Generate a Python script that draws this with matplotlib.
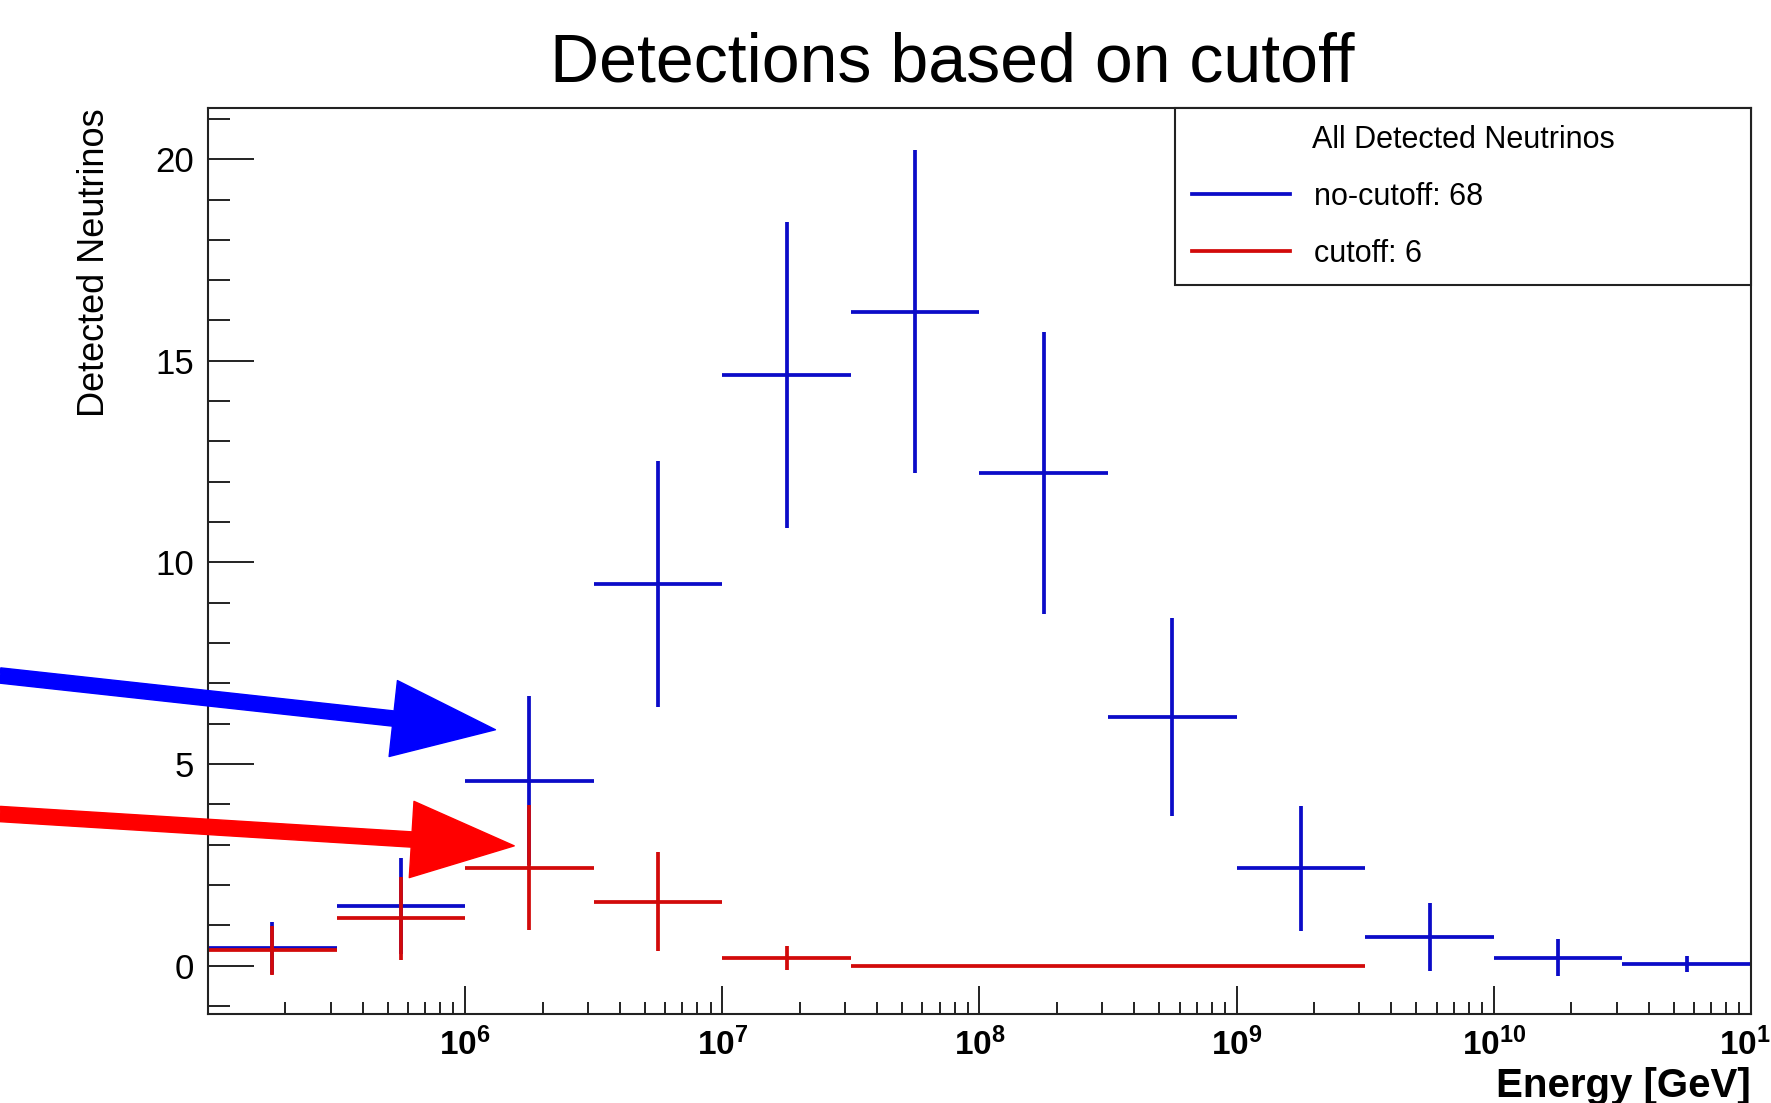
import numpy as np
import matplotlib.pyplot as plt
from matplotlib.lines import Line2D
from matplotlib.ticker import LogLocator, MultipleLocator, NullFormatter

plt.rcParams['font.family'] = ['Liberation Sans', 'DejaVu Sans']
plt.rcParams['mathtext.fontset'] = 'custom'
plt.rcParams['mathtext.rm'] = 'Liberation Sans'
plt.rcParams['mathtext.bf'] = 'Liberation Sans:bold'

# bin edges, log10(Energy / GeV)
log_edges = [5.0, 5.5, 6.0, 6.5, 7.0, 7.5, 8.0, 8.5, 9.0, 9.5, 10.0, 10.5, 11.0]

# no-cutoff histogram (68 detected)
nocut_counts = [0.44, 1.48, 4.59, 9.47, 14.65, 16.22, 12.21, 6.16, 2.41, 0.71, 0.19, 0.05]
nocut_err = [0.64, 1.2, 2.1, 3.05, 3.8, 4.0, 3.5, 2.45, 1.55, 0.85, 0.46, 0.2]

# cutoff histogram (6 detected), drawn up to 10^9.5
cut_counts = [0.38, 1.17, 2.43, 1.58, 0.18, 0.0, 0.0, 0.0, 0.0]
cut_err = [0.61, 1.03, 1.55, 1.23, 0.3, 0.0, 0.0, 0.0, 0.0]

tick_exps = [6, 7, 8, 9, 10, 11]
legend_labels = ['no-cutoff: 68', 'cutoff: 6']

BLUE = '#0b0bc8'
RED = '#d20a0a'
LW = 2.7


def draw_hist(ax, counts, errs, color):
    """draw a ROOT style histogram with error crosses"""
    n = len(counts)
    lo = 10 ** np.array(log_edges[:n])
    hi = 10 ** np.array(log_edges[1:n + 1])
    centers = np.sqrt(lo * hi)
    ax.errorbar(centers, counts, xerr=[centers - lo, hi - centers], yerr=errs,
                fmt='none', ecolor=color, elinewidth=LW, capsize=0)


fig = plt.figure(figsize=(17.71, 11.03), dpi=100)
ax = fig.add_axes([0.1174, 0.0807, 0.9887 - 0.1174, 0.9021 - 0.0807])

draw_hist(ax, nocut_counts, nocut_err, BLUE)
draw_hist(ax, cut_counts, cut_err, RED)

ax.set_xscale('log')
ax.set_xlim(1e5, 1e11)
ax.set_ylim(-1.2, 21.27)

# axis ticks, ROOT look
ax.set_xticks([10.0 ** e for e in tick_exps])
ax.set_xticklabels([r'$\mathbf{10^{%d}}$' % e for e in tick_exps])
ax.xaxis.set_minor_locator(LogLocator(base=10, subs=np.arange(2, 10)))
ax.xaxis.set_minor_formatter(NullFormatter())
ax.set_yticks([0, 5, 10, 15, 20])
ax.yaxis.set_minor_locator(MultipleLocator(1))
ax.tick_params(axis='both', which='both', direction='in', top=False, right=False,
               width=1.4, color='#222222')
ax.tick_params(axis='y', which='major', length=33, labelsize=25, pad=10)
ax.tick_params(axis='y', which='minor', length=16)
ax.tick_params(axis='x', which='major', length=20, labelsize=24, pad=10)
ax.tick_params(axis='x', which='minor', length=9)
for sp in ax.spines.values():
    sp.set_linewidth(1.5)
    sp.set_color('#222222')

ax.set_xlabel('Energy [GeV]', fontsize=29, fontweight='bold', loc='right')
ax.xaxis.set_label_coords(1.0, -0.058)
ax.set_ylabel('Detected Neutrinos', fontsize=26, loc='top')
ax.yaxis.set_label_coords(-0.062, 1.0)

fig.text(0.5375, 0.9425, 'Detections based on cutoff', fontsize=49,
         ha='center', va='center')

handles = [Line2D([], [], color=BLUE, lw=LW), Line2D([], [], color=RED, lw=LW)]
leg = ax.legend(handles, legend_labels, title='All Detected Neutrinos',
                loc='upper right', bbox_to_anchor=(0.6267, 0.0, 0.3733, 1.0),
                mode='expand', borderaxespad=0, fontsize=22, title_fontsize=22,
                handlelength=3.2, handletextpad=0.8, labelspacing=0.88,
                borderpad=0.55, fancybox=False, framealpha=1, edgecolor='#222222')
leg.get_frame().set_linewidth(1.5)

# hand drawn arrows pointing at the 10^6.25 bin
arrow_style = 'simple,head_length=74,head_width=55,tail_width=11'
ax.annotate('', xy=(10 ** 6.118, 5.85), xycoords='data',
            xytext=(0.0, 0.3876), textcoords='figure fraction',
            arrowprops=dict(arrowstyle=arrow_style, mutation_scale=1,
                            color='#0000ff', shrinkA=0, shrinkB=0),
            annotation_clip=False, zorder=10)
ax.annotate('', xy=(10 ** 6.191, 2.97), xycoords='data',
            xytext=(0.0, 0.262), textcoords='figure fraction',
            arrowprops=dict(arrowstyle=arrow_style, mutation_scale=1,
                            color='#ff0000', shrinkA=0, shrinkB=0),
            annotation_clip=False, zorder=10)

fig.savefig('out.png', dpi=100)
